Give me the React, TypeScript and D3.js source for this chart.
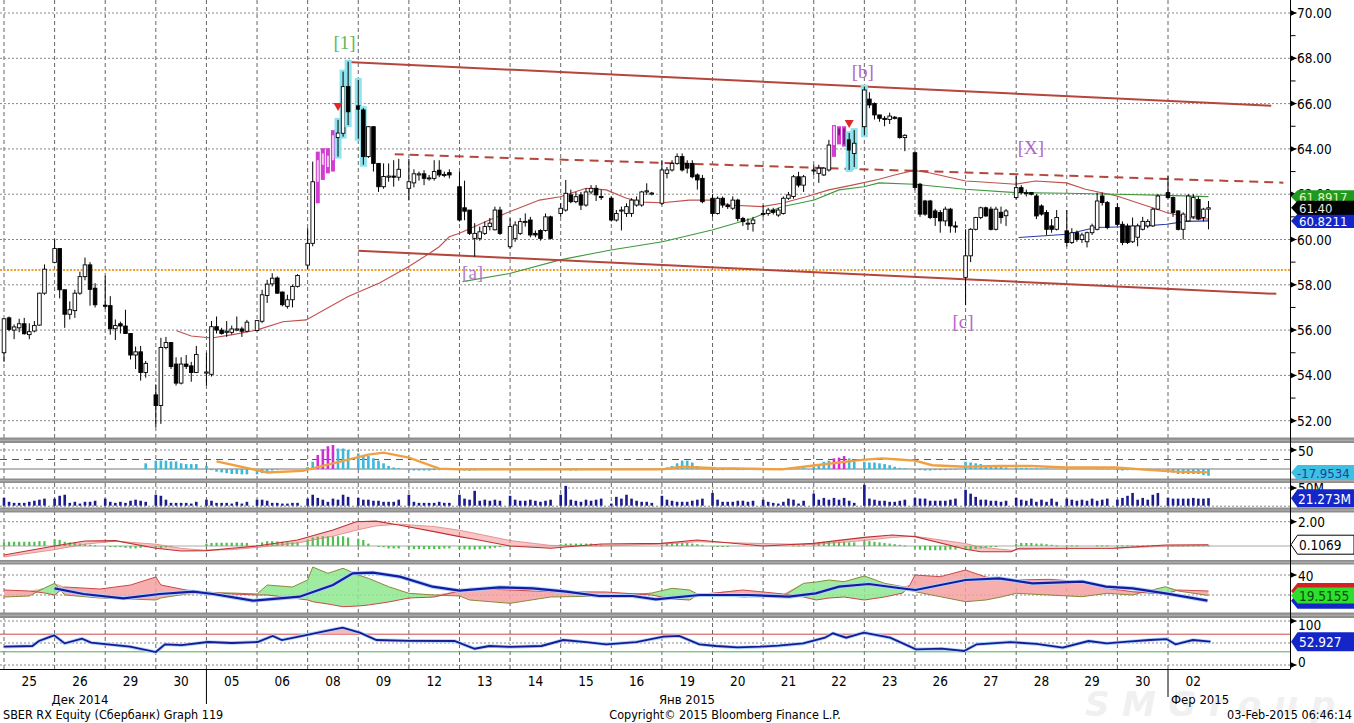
import React from "react";
import * as d3 from "d3";

// ---------- categories ----------
const dayLabels = ["25","26","29","30","05","06","08","09","12","13","14","15","16","19","20","21","22","23","26","27","28","29","30","02"];
const monthLabels = [
  { t: "Дек 2014", x: 80, anchor: "middle" },
  { t: "Янв 2015", x: 687, anchor: "middle" },
  { t: "Фер 2015", x: 1171, anchor: "start" },
];

// ---------- hourly candles (9 per trading day) ----------
const opens = [
  55.0,56.54,56.0,56.1,56.28,55.8,55.96,56.22,57.63,
  58.99,59.6,57.78,56.7,56.86,57.63,58.36,58.88,57.85,
  57.1,57.08,56.06,56.28,56.18,55.85,54.9,55.04,54.13,
  53.14,52.67,55.23,55.45,54.5,53.66,54.5,54.42,54.13,
  54.1,54.05,56.15,56.0,55.9,55.9,56.0,56.05,55.95,
  55.98,56.39,57.53,58.04,58.3,57.68,57.05,57.34,57.93,
  58.87,59.83,62.55,63.3,63.2,63.5,64.5,64.69,66.75,
  65.9,65.72,63.66,64.98,63.36,62.33,62.75,62.8,62.75,
  62.26,62.5,62.85,62.9,62.7,62.7,63.06,62.85,62.95,
  62.33,61.4,61.3,60.05,60.05,60.27,60.57,60.43,61.3,
  59.68,60.05,60.27,60.8,60.86,60.27,60.4,60.4,61.0,
  61.15,61.3,61.97,61.67,61.97,61.52,62.1,62.26,61.9,
  61.82,60.86,61.3,61.15,61.15,61.52,61.52,62.1,62.05,
  61.6,62.92,63.07,63.36,63.66,63.36,63.36,62.85,62.7,
  61.82,61.15,61.82,61.52,61.38,61.74,60.93,60.72,60.7,
  61.15,61.15,61.3,61.08,61.15,61.82,61.9,62.77,62.4,
  63.07,62.92,62.85,63.07,64.17,64.9,64.9,64.4,63.8,
  64.98,66.2,66.0,65.5,65.35,65.3,65.4,65.37,64.5,
  63.83,62.44,61.7,61.7,61.26,61.19,60.82,61.34,60.6,
  58.33,59.28,60.45,60.97,61.4,61.34,60.45,61.2,61.05,
  61.85,62.29,62.07,62.07,61.92,61.48,61.19,60.6,60.45,
  60.38,59.87,60.3,60.0,59.9,60.3,60.45,61.92,61.63,
  61.41,60.67,60.6,59.9,60.1,60.45,60.6,60.6,61.34,
  62.07,61.85,61.26,60.45,60.82,61.0,61.77,60.97,61.34,
];
const highs = [
  56.5,56.6,56.25,56.5,56.54,56.3,56.4,57.65,58.9,
  60.0,59.6,57.78,57.27,57.78,58.58,59.2,59.0,58.07,
  58.4,57.5,56.47,56.37,56.9,55.85,55.27,55.3,54.64,
  53.6,55.66,55.7,55.45,54.8,54.8,54.9,54.6,55.3,
  55.0,56.4,56.6,56.1,56.4,56.2,56.6,56.15,56.45,
  56.45,57.78,58.22,58.51,58.37,57.7,57.56,58.0,58.47,
  60.5,63.44,63.88,64.03,64.03,64.83,65.28,67.41,67.85,
  67.04,65.8,65.0,65.0,63.36,63.36,63.36,63.5,63.56,
  63.56,63.1,63.0,63.06,62.85,63.5,63.5,63.0,63.1,
  62.99,62.6,61.3,60.72,60.57,60.8,60.95,61.45,61.45,
  60.93,60.8,60.95,61.15,61.0,60.4,60.45,61.15,61.05,
  61.6,62.63,62.2,62.1,62.1,62.26,62.4,62.4,62.2,
  61.9,61.3,61.45,61.6,61.82,61.9,62.15,62.48,62.1,
  63.5,63.2,63.5,63.8,63.8,63.5,63.5,62.92,62.85,
  62.0,61.9,61.9,61.6,61.9,61.8,61.0,60.93,61.0,
  61.52,61.4,61.4,61.4,61.9,62.1,62.85,62.99,62.85,
  63.3,63.3,63.2,64.4,65.05,65.0,65.0,64.7,64.83,
  66.75,66.5,66.05,65.5,65.45,65.6,65.45,65.4,64.65,
  63.9,62.5,61.75,61.75,61.35,61.3,61.45,61.4,60.8,
  60.45,60.5,61.0,61.45,61.45,61.45,61.45,61.45,61.35,
  62.8,62.4,62.2,62.1,62.0,61.55,61.3,60.9,61.3,
  61.3,60.5,60.4,60.3,60.35,60.7,62.07,62.07,61.7,
  61.6,60.8,60.7,60.97,60.7,61.0,60.9,61.4,62.0,
  62.8,61.9,61.3,61.2,62.0,62.0,61.9,61.4,61.7,
];
const lows = [
  54.6,55.95,55.6,55.9,55.8,55.6,55.9,56.2,57.56,
  58.95,57.4,56.1,56.47,56.54,57.56,58.2,57.08,57.0,
  56.95,55.8,55.56,55.85,55.85,54.7,54.28,53.77,53.9,
  51.72,51.86,55.15,54.28,53.55,53.6,54.28,53.72,54.1,
  53.55,53.95,55.85,55.8,55.7,55.8,55.95,55.7,55.9,
  55.95,56.31,57.2,57.93,57.6,57.05,56.95,57.0,57.88,
  58.7,59.7,61.6,62.63,62.92,63.0,63.66,64.54,65.05,
  64.45,63.3,63.6,63.0,62.1,62.24,62.55,62.33,62.6,
  61.72,62.3,62.6,62.4,62.6,62.6,62.75,62.75,62.7,
  60.79,60.85,60.2,59.24,59.95,60.2,60.4,60.4,60.2,
  59.6,59.9,60.2,60.57,60.1,60.1,59.95,60.35,60.0,
  61.0,61.23,61.6,61.6,61.3,61.45,62.0,61.7,61.75,
  60.79,60.79,60.4,61.0,61.0,61.45,61.45,61.97,61.95,
  61.52,62.7,63.0,63.3,63.0,62.92,62.7,62.2,61.6,
  61.0,61.1,61.4,61.35,61.3,60.8,60.6,60.42,60.35,
  61.0,61.05,61.1,61.0,61.1,61.75,61.8,62.3,62.1,
  62.85,62.5,62.8,63.0,63.65,64.2,64.1,63.07,63.2,
  64.6,65.8,65.3,65.2,65.0,65.1,65.3,64.45,63.9,
  62.2,61.0,61.05,60.9,60.6,60.3,60.6,60.3,60.3,
  57.1,59.0,60.4,60.9,61.0,60.4,60.4,60.7,60.6,
  61.77,62.0,61.9,61.95,60.9,61.05,60.2,60.3,60.4,
  59.7,59.8,59.9,59.85,59.65,60.2,60.4,61.5,60.45,
  60.6,59.75,59.8,59.85,59.7,60.4,60.5,60.55,61.3,
  61.8,61.0,60.4,60.0,60.8,60.9,60.85,60.8,60.45,
];
const closes = [
  56.5,56.03,56.14,56.28,55.84,55.93,56.2,57.63,58.69,
  59.6,57.78,56.7,56.9,57.63,58.36,58.88,57.8,57.12,
  57.05,56.06,56.2,56.18,55.85,54.9,55.04,54.13,54.53,
  52.67,55.23,55.45,54.39,53.66,54.5,54.4,54.13,54.92,
  54.15,56.15,56.0,55.85,55.95,56.05,56.05,55.95,56.35,
  56.42,57.56,58.03,58.29,57.63,57.12,57.34,57.93,58.41,
  59.83,62.55,63.5,63.8,63.7,64.6,64.7,66.75,65.64,
  65.75,63.66,64.98,63.36,62.33,62.78,62.8,62.75,63.1,
  62.55,62.9,62.9,62.7,62.72,63.0,62.85,62.87,62.85,
  60.86,61.25,60.27,60.27,60.34,60.57,60.72,61.3,60.27,
  60.57,60.64,60.79,60.8,60.2,60.2,60.05,61.0,60.05,
  61.38,62.04,61.67,61.89,61.52,62.1,62.26,61.97,61.89,
  60.86,61.15,61.3,61.45,61.74,61.74,62.1,62.15,62.05,
  63.07,63.07,63.36,63.66,63.07,63.15,62.77,62.63,61.67,
  61.15,61.82,61.52,61.45,61.74,60.93,60.79,60.72,60.86,
  61.15,61.3,61.2,61.3,61.82,61.97,62.77,62.4,62.77,
  63.07,63.15,63.15,64.17,65.0,64.6,64.2,63.95,64.25,
  66.6,65.94,65.5,65.35,65.3,65.45,65.35,64.5,64.6,
  62.3,61.12,61.12,60.97,60.97,60.82,61.34,60.6,60.55,
  59.28,60.45,60.97,61.4,61.04,60.45,61.34,60.97,61.26,
  62.29,62.07,62.07,62.0,61.04,61.12,60.45,60.45,60.97,
  59.87,60.3,60.0,60.2,60.3,60.6,61.7,61.63,60.53,
  60.67,59.87,59.87,60.6,60.6,60.8,60.8,61.34,61.92,
  61.85,61.19,60.45,61.12,61.92,61.85,60.9,61.34,61.40,
];

// volume, millions
const volumes = [
  22,11,8,8,8,11,14,17,20,
  20,28,31,8,11,6,11,11,14,
  20,11,8,11,8,14,17,14,11,
  31,28,17,8,8,8,8,6,11,
  17,14,8,8,8,6,11,6,11,
  17,17,14,8,8,6,6,8,8,
  20,31,22,17,11,20,17,31,25,
  22,17,17,14,14,11,11,11,17,
  31,11,8,8,8,8,11,8,8,
  31,20,17,42,14,17,14,17,14,
  28,17,14,14,17,14,11,14,17,
  31,56,17,14,11,17,14,17,20,
  6,25,20,31,20,14,11,11,8,
  28,17,14,11,11,11,14,17,20,
  36,17,11,11,11,14,14,11,14,
  17,11,8,6,11,20,17,6,14,
  34,17,22,17,22,17,22,14,8,
  59,20,17,14,14,11,11,14,17,
  22,20,20,14,14,14,14,17,20,
  45,34,25,17,17,14,14,11,14,
  22,17,14,20,11,17,11,20,11,
  20,17,14,17,14,20,14,17,20,
  17,22,28,36,17,22,17,31,36,
  22,20,20,20,20,22,20,20,21.273,
];

// oscillator histogram (panel 2)
const oscBars = [
  0,0,0,0,0,0,0,0,0,
  0,0,0,0,0,0,0,0,0,
  0,0,0,0,0,0,0,0,15,
  22,22,22,20,20,15,13,13,13,
  8,-3,-7,-9,-11,-13,-13,-14,-14,
  -14,-11,-7,-4,-2,0,0,0,0,
  5,19,37,52,60,63,54,54,50,
  41,37,34,28,22,15,8,4,2,
  -3,-4,-4,-4,-4,-3,-3,-2,-2,
  -3,-4,-5,-4,-3,-3,-2,-2,-2,
  -2,-3,-3,-2,-2,-3,-3,-2,-2,
  -2,-3,-4,-4,-3,-3,-2,-2,-1,
  -1,-2,-3,-2,-2,-1,-1,-1,0,
  2,4,8,15,22,22,17,8,3,
  -2,-3,-3,-2,-2,-3,-3,-2,-1,
  -1,-2,-2,-1,-1,0,1,1,2,
  6,13,19,22,28,30,34,28,19,
  19,17,17,15,13,10,6,3,2,
  -2,-3,-4,-4,-3,-3,-3,-2,-2,
  19,17,15,13,10,10,8,6,4,
  4,3,3,2,2,1,1,0,0,
  0,0,1,1,0,0,-1,-1,-1,
  -3,-4,-3,-3,-2,-2,-3,-3,-4,
  -7,-10,-13,-13,-13,-13,-13,-16,-17.9534,
];
const oscLine: [number, number][] = [
  [42,20],[52,-9],[59,-5],[72,38],[75,43],[80,30],[86,1],[90,-1],[130,-1],[134,6],[140.7,2],
  [153.7,-1],[160.4,10],[169.5,24],[173.5,28],[176.8,25],[180,22],[183.4,10],[190,6],[196.6,8],
  [203,8],[209.8,4],[219.6,4],[226.8,-3],[231.5,-7],[238,-9],
];

// MACD histogram (panel 4)
const macdHist = [
  0.3,0.35,0.35,0.35,0.35,0.35,0.35,0.4,0.4,
  0.55,0.5,0.35,0.3,0.25,0.2,0.15,0.1,0.05,
  0,-0.05,-0.1,-0.1,-0.15,-0.2,-0.2,-0.15,-0.1,
  -0.15,-0.2,-0.1,-0.05,0,0,0,0,0,
  0.2,0.25,0.27,0.27,0.27,0.27,0.27,0.27,0.25,
  0.1,0.3,0.4,0.4,0.38,0.35,0.3,0.3,0.3,
  0.5,0.7,0.77,0.8,0.8,0.8,0.8,0.8,0.7,
  0.6,0.5,0.2,0,-0.05,-0.1,-0.2,-0.2,-0.2,
  -0.2,-0.25,-0.25,-0.25,-0.25,-0.25,-0.25,-0.2,-0.2,
  -0.25,-0.27,-0.3,-0.3,-0.27,-0.25,-0.2,-0.15,-0.1,
  -0.05,0,0,0,0,0,0,0,0,
  0.15,0.2,0.2,0.2,0.2,0.2,0.2,0.15,0.1,
  0.05,0,0,0,0,0,0,0,0,
  0.1,0.2,0.25,0.25,0.25,0.25,0.2,0.15,0.1,
  -0.05,-0.05,-0.05,-0.05,0,0,0,0,0,
  0,0,0,0,0,0,0.05,0.05,0.1,
  0.2,0.3,0.35,0.35,0.35,0.35,0.35,0.3,0.3,
  0.4,0.4,0.35,0.3,0.25,0.2,0.15,0.1,0.05,
  -0.2,-0.3,-0.35,-0.35,-0.35,-0.35,-0.35,-0.3,-0.3,
  -0.3,-0.3,-0.25,-0.2,-0.15,-0.1,-0.05,0,0,
  0.2,0.25,0.25,0.25,0.2,0.2,0.15,0.1,0.05,
  0.05,0.05,0.05,0,0,0,0.05,0.05,0.05,
  0.05,0.05,0.05,0.05,0.05,0.05,0.05,0.05,0.05,
  0.05,0.05,0.05,0.05,0.05,0.05,0.05,0.05,0.05,
];
// [slot, macd, signal]
const macdLines: [number, number, number][] = [
  [0,-0.74,-0.9],[10,0,-0.3],[16,0.41,0.15],[22,0.44,0.4],[30,-0.19,0.15],[35,-0.41,-0.2],
  [40,-0.38,-0.35],[45,-0.19,-0.3],[50,0,-0.12],[58,0.49,0.25],[65,1.32,0.8],[69.6,2.0,1.3],
  [73.5,2.05,1.65],[78,1.73,1.8],[85,1.18,1.6],[90,0.77,1.3],[93,0.55,1.05],[100,0,0.45],
  [108,-0.19,0.05],[118,0.16,0.0],[130,0.22,0.15],[137,0.49,0.35],[150,0,0.2],[160,0.22,0.12],
  [170,0.71,0.45],[175.5,0.9,0.7],[180,0.77,0.8],[190,-0.27,0.2],[193,-0.47,-0.1],[199,-0.47,-0.35],
  [200.5,-0.19,-0.3],[210,-0.19,-0.22],[219,-0.19,-0.2],[229.5,0.08,-0.02],[238,0.1069,0.05],
];

// DMI: [slot, +DI, -DI]
const dmiLines: [number, number, number][] = [
  [0,18,25],[5,19,24],[8,27,22],[10,31.7,20],[12,20,28],[19,17,26],[25,16,30],[30,15,38],[31,17,30],
  [36,21,25],[40,22,23],[45,22,21],[50,21,20],[52,30,20],[57,28,17],[60,35,15],[61,48,13.3],
  [64,41.7,11],[67,46.7,8.3],[70,40,9],[72,36.7,10],[76,28.3,13],[78,25,15],[80,21.7,17],[85,20,18],
  [90,19,24],[92,15,26.7],[100,11.7,25],[108,18,23.3],[119,19,23],[122,19,22],[128,22,20],
  [132,26.7,16],[135.5,25,15],[137,21,20],[146,18,25],[154,19,21],[158,31.7,18],[160.5,33,15],
  [163,35,17],[166,33.3,18],[170,39,15],[174,31.7,18],[177.6,28.3,22],[179,25,30],[180,23.3,40],
  [185,18.3,38.3],[190,13.3,45],[194,15,38],[197,18,36],[200,21.7,35],[206.5,20,35.7],[213,18.3,33.3],
  [218,21.7,26.7],[223,20,23.3],[226,24,22],[229.5,28.3,21],[232,24,25],[238,19.5155,24],
];
const adxLine: [number, number][] = [
  [10,26.7],[15.7,21],[23.6,16.7],[30.8,21],[37.4,23.3],[41.3,21],[49.2,14.3],[58.4,18.3],[65,30],
  [68.9,41.7],[72.9,42.3],[78.2,38.3],[84.7,28.3],[90,24.3],[97.9,27.7],[104.5,26.7],[111.1,23.3],
  [117.6,19],[124.2,19],[128.8,15.7],[137.4,20],[147.2,20],[155.1,18.3],[160.4,21.7],[165,28.3],
  [170.9,31],[176.8,27],[180.1,25],[190,35],[196.6,36.7],[203.2,31.7],[213.1,33.3],[217.7,28.3],
  [223,26.7],[229.5,21.7],[237.8,14.3],
];

// RSI
const rsiLine: [number, number][] = [
  [0,41.6],[5.6,43.2],[6.9,54.5],[9.9,67.4],[12,49.2],[15.4,59.8],[17.2,50.8],[20.5,47],[24.9,41.6],[30,29.5],
  [31.8,47],[35.1,45],[40.3,52.3],[45,50],[50.1,52.3],[53.1,66],[54.9,56.8],[60.4,69.7],[63,76],[66.9,84.8],
  [70.3,73.5],[73.6,56.8],[80,55],[89,54.5],[93,37],[95.9,43.2],[100,41],[106.2,43.2],[110.5,56.8],[115,52],
  [119,47],[124.9,52],[130.3,64.4],[133.4,66],[137.4,47],[140.7,43.2],[145,40],[149.4,41.6],[153,44],[157.9,49],
  [162.2,62],[163.8,72],[166.4,62],[169.9,73.5],[175.1,62],[180.2,35.6],[185.3,37],[189.7,31.8],[192.2,47],[198.9,52],
  [204,48],[209.2,39.4],[214.3,54.5],[217.9,49],[222,53],[226.4,56.8],[229.7,59],[231.5,47],[234.9,56.8],[238.4,52.927],
];

// moving averages on price
const maRed: [number, number][] = [
  [34.1,55.97],[37,55.74],[41,55.65],[45.2,55.8],[49.9,56.0],[55.1,56.37],[59.7,56.45],[67.9,57.47],
  [74.2,58.08],[79.9,58.8],[84.1,59.39],[86,59.68],[88,60.12],[90,60.28],[95.9,60.86],[99.9,61.23],
  [105.8,61.74],[109.9,61.89],[115,62.26],[119,62.19],[123,61.82],[126.1,61.65],[130.1,61.62],
  [135.4,61.74],[139.9,61.74],[143.3,61.52],[149.8,61.45],[153.7,61.6],[158.5,61.89],[163,62.19],
  [167.6,62.4],[172.9,62.66],[176,62.85],[179.8,63.05],[182.8,62.95],[190,62.58],[192.6,62.55],
  [199.9,62.44],[203.8,62.58],[209.9,62.5],[213.7,62.22],[219.9,61.92],[226.8,61.41],[229.7,61.19],
  [234.1,60.97],[238,60.9],
];
const maGreen: [number, number][] = [
  [90.6,58.14],[99.9,58.5],[109.9,59.1],[119.9,59.54],[130.1,59.9],[139.9,60.42],[147.8,60.93],
  [153.7,61.45],[160.1,61.74],[165,62.19],[169.9,62.33],[172.9,62.5],[179.8,62.44],[190,62.22],
  [199.9,62.07],[210,62.04],[219.9,62.0],[229.7,61.95],[238,61.8917],
];
const maBlue: [number, number][] = [
  [200.5,60.09],[210,60.23],[215.7,60.53],[219.9,60.55],[225.6,60.6],[229.7,60.67],[233.5,60.8],[238,60.8211],
];

// trend channel: [slot, price]
const channelUpper: [number, number][] = [[67.9,67.84],[250.4,65.9]];
const channelLower: [number, number][] = [[70,59.5],[251.4,57.6]];
const channelMid: [number, number][] = [[77.2,63.76],[252.8,62.51]];
const supportLevel = 58.65;

const waveLabels = [
  { t: "[1]", s: 67.3, p: 68.68, c: "#5cb85c" },
  { t: "[b]", s: 169.7, p: 67.4, c: "#b565c8" },
  { t: "[a]", s: 92.6, p: 58.52, c: "#b07cc8" },
  { t: "[X]", s: 202.9, p: 64.04, c: "#b565c8" },
  { t: "[c]", s: 189.5, p: 56.36, c: "#b565c8" },
];
const signalMarks: [number, number][] = [[66,65.85],[167,65.1]];
const magentaSlots = [62,63,64,65,164,165,166];
const cyanSlots = [66,67,68,70,71,167,168,170];

const priceTicks = [52,54,56,58,60,62,64,66,68,70];
const priceMinor = [53,55,57,59,61,63,65,67,69];

const lastPrice = 61.40;
const lastGreenMa = 61.8917;
const lastBlueMa = 60.8211;
const lastOsc = -17.9534;
const lastVol = 21.273;
const lastMacd = 0.1069;
const lastPlus = 19.5155;
const lastMinus = 24;
const lastAdx = 14.3;
const lastRsi = 52.927;

const FONT = "'DejaVu Sans Condensed', 'DejaVu Sans', sans-serif";
const AX = 1290.5;

export default function App() {
  const W = 1354, H = 723;
  const x = d3.scaleLinear().domain([0, 230]).range([4, 1168]);
  const yMain = d3.scaleLinear().domain([52, 70]).range([420.7, 13]);
  const yOsc = d3.scaleLinear().domain([0, 50]).range([469, 450]);
  const yVol = d3.scaleLinear().domain([0, 50]).range([505.7, 488]);
  const yMacd = d3.scaleLinear().domain([0, 2]).range([546, 521.7]);
  const yDmi = d3.scaleLinear().domain([20, 40]).range([595, 575]);
  const yRsi = d3.scaleLinear().domain([0, 100]).range([665, 621]);
  const slotOf = (i: number) => Math.floor(i / 9) * 10 + (i % 9);
  const lineFor = (y: d3.ScaleLinear<number, number>) =>
    d3.line<[number, number]>().x((d) => x(d[0])).y((d) => y(d[1]));

  const daySlots = d3.range(0, 24).map((d) => d * 10);
  const seps: [number, number][] = [[437.5,443],[478.5,483],[507.5,512.5],[560,564.5],[612.5,618]];

  const macdFill = d3.area<[number, number, number]>()
    .x((d) => x(d[0])).y0((d) => yMacd(d[1])).y1((d) => yMacd(d[2]))(macdLines) || "";
  const macdPath = d3.line<[number, number, number]>().x((d) => x(d[0])).y((d) => yMacd(d[1]))(macdLines) || "";
  const sigPath = d3.line<[number, number, number]>().x((d) => x(d[0])).y((d) => yMacd(d[2]))(macdLines) || "";

  const greenFill = d3.area<[number, number, number]>()
    .x((d) => x(d[0])).y0((d) => yDmi(d[2])).y1((d) => yDmi(Math.max(d[1], d[2])))(dmiLines) || "";
  const redFill = d3.area<[number, number, number]>()
    .x((d) => x(d[0])).y0((d) => yDmi(d[1])).y1((d) => yDmi(Math.max(d[1], d[2])))(dmiLines) || "";
  const plusPath = d3.line<[number, number, number]>().x((d) => x(d[0])).y((d) => yDmi(d[1]))(dmiLines) || "";
  const minusPath = d3.line<[number, number, number]>().x((d) => x(d[0])).y((d) => yDmi(d[2]))(dmiLines) || "";

  const rsiOver = d3.area<[number, number]>()
    .x((d) => x(d[0])).y0(() => yRsi(70)).y1((d) => yRsi(Math.max(70, d[1])))(rsiLine) || "";

  const box = (yc: number, h: number) =>
    `M${AX + 0.5},${yc} L${AX + 7},${yc - h / 2} L${W},${yc - h / 2} L${W},${yc + h / 2} L${AX + 7},${yc + h / 2} Z`;
  const clampC = (yc: number, h: number, top: number, bot: number) =>
    Math.max(top + h / 2, Math.min(bot - h / 2, yc));

  const pointer = (y: number, k: string) => (
    <g key={k}>
      <line x1={AX} x2={AX + 6} y1={y} y2={y} stroke="#000" strokeWidth={1} />
      <path d={`M${AX},${y - 3} L${AX + 6},${y} L${AX},${y + 3} Z`} fill="#000" />
    </g>
  );

  const hGrid = (y: number, k: string, dash = "2,2", color = "#888") => (
    <line key={k} x1={0} x2={AX} y1={y} y2={y} stroke={color} strokeWidth={1} strokeDasharray={dash} />
  );

  return (
    <svg width={W} height={H} style={{ position: "absolute", left: 0, top: 0, background: "#fff" }} fontFamily={FONT}>
      <rect x={0} y={0} width={W} height={H} fill="#fff" />

      {/* watermark */}
      <text x={1085} y={716} fontSize={34} fontWeight="bold" fontStyle="italic" fill="#f0f0f0" textLength={250} fontFamily="'DejaVu Sans', sans-serif">SMGroup</text>

      {/* vertical day grid */}
      {daySlots.map((s) => (
        <line key={"v" + s} x1={x(s)} x2={x(s)} y1={0} y2={669} stroke="#666" strokeWidth={1} strokeDasharray="4,3" />
      ))}

      {/* main horizontal grid */}
      {priceTicks.map((p) => hGrid(yMain(p), "hg" + p))}

      {/* support level */}
      <line x1={0} x2={AX} y1={yMain(supportLevel)} y2={yMain(supportLevel)} stroke="#f0a030" strokeWidth={2} strokeDasharray="2,1.5" />

      {/* moving averages */}
      <path d={lineFor(yMain)(maRed) || ""} fill="none" stroke="#c0504d" strokeWidth={1.1} />
      <path d={lineFor(yMain)(maGreen) || ""} fill="none" stroke="#3c9a3c" strokeWidth={1.1} />
      <path d={lineFor(yMain)(maBlue) || ""} fill="none" stroke="#2a3aa8" strokeWidth={1.1} />

      {/* channel */}
      <path d={lineFor(yMain)(channelUpper) || ""} fill="none" stroke="#b4463c" strokeWidth={2} />
      <path d={lineFor(yMain)(channelLower) || ""} fill="none" stroke="#b4463c" strokeWidth={2} />
      <path d={lineFor(yMain)(channelMid) || ""} fill="none" stroke="#b4463c" strokeWidth={2} strokeDasharray="9,6" />

      {/* candles */}
      {closes.map((c, i) => {
        const s = slotOf(i);
        const cx = x(s);
        const o = opens[i], h = highs[i], l = lows[i];
        const up = c >= o;
        const yt = yMain(Math.max(o, c));
        const yb = yMain(Math.min(o, c));
        const bh = Math.max(1, yb - yt);
        const mag = magentaSlots.includes(s);
        const cyan = cyanSlots.includes(s);
        return (
          <g key={"c" + i}>
            {cyan && <rect x={cx - 3.5} y={yMain(h) - 2} width={7} height={yMain(l) - yMain(h) + 4} fill="#8fe3ee" />}
            {mag ? (
              <>
                <rect x={cx - 2} y={yMain(h)} width={4} height={yMain(l) - yMain(h)} fill="#d23cd2" />
                <rect x={cx - 1} y={yt} width={2} height={bh} fill={up ? "#f6c8f6" : "#7a1a7a"} />
              </>
            ) : (
              <>
                <line x1={cx} x2={cx} y1={yMain(h)} y2={yMain(l)} stroke="#000" strokeWidth={1} />
                <rect x={cx - 1.8} y={yt} width={3.6} height={bh} fill={up ? "#fff" : "#000"} stroke="#000" strokeWidth={0.9} />
              </>
            )}
          </g>
        );
      })}

      {/* signal triangles */}
      {signalMarks.map(([s, p], i) => {
        const cx = x(s), cy = yMain(p);
        return <path key={"tri" + i} d={`M${cx - 4.5},${cy - 4} L${cx + 4.5},${cy - 4} L${cx},${cy + 4} Z`} fill="#e02828" />;
      })}

      {/* wave labels */}
      {waveLabels.map((w, i) => (
        <text key={"w" + i} x={x(w.s)} y={yMain(w.p) + 6} textAnchor="middle" fontSize={19} fill={w.c} fontFamily="'Liberation Serif', serif">{w.t}</text>
      ))}

      {/* ---------- panel 2: oscillator ---------- */}
      {hGrid(yOsc(50), "og50")}
      <line x1={0} x2={AX} y1={yOsc(25)} y2={yOsc(25)} stroke="#a03a3a" strokeWidth={1} strokeDasharray="7,5" />
      <line x1={0} x2={AX} y1={yOsc(0)} y2={yOsc(0)} stroke="#777" strokeWidth={1} />
      {oscBars.map((v, i) => {
        if (v === 0) return null;
        const s = slotOf(i);
        const y0 = yOsc(0), y1 = yOsc(v);
        return <rect key={"ob" + i} x={x(s) - 1.3} y={Math.min(y0, y1)} width={2.6} height={Math.abs(y1 - y0)} fill={magentaSlots.includes(s) ? "#d42cd4" : "#3cb8dc"} />;
      })}
      <path d={lineFor(yOsc)(oscLine) || ""} fill="none" stroke="#f0a040" strokeWidth={2.4} />

      {/* ---------- panel 3: volume ---------- */}
      {hGrid(yVol(50), "vg50")}
      {hGrid(yVol(0) + 0.5, "vg0")}
      {volumes.map((v, i) => {
        const s = slotOf(i);
        return <rect key={"vb" + i} x={x(s) - 1.3} y={yVol(v)} width={2.6} height={yVol(0) - yVol(v)} fill="#1b1b8f" />;
      })}

      {/* ---------- panel 4: MACD ---------- */}
      {hGrid(yMacd(2), "mg2")}
      <line x1={0} x2={AX} y1={yMacd(0)} y2={yMacd(0)} stroke="#aaa" strokeWidth={1} />
      <path d={macdFill} fill="#f3a0a0" opacity={0.6} />
      {macdHist.map((v, i) => {
        if (v === 0) return null;
        const s = slotOf(i);
        const y0 = yMacd(0), y1 = yMacd(v);
        return <rect key={"mh" + i} x={x(s) - 1.1} y={Math.min(y0, y1)} width={2.2} height={Math.max(1, Math.abs(y1 - y0))} fill="#4cc24c" />;
      })}
      <path d={sigPath} fill="none" stroke="#e08080" strokeWidth={0.8} />
      <path d={macdPath} fill="none" stroke="#c03030" strokeWidth={1.1} />

      {/* ---------- panel 5: DMI ---------- */}
      {hGrid(yDmi(40), "dg40")}
      {hGrid(yDmi(20), "dg20")}
      <path d={greenFill} fill="#8ee88e" opacity={0.85} />
      <path d={redFill} fill="#f4a0a0" opacity={0.85} />
      <path d={plusPath} fill="none" stroke="#8a8a3a" strokeWidth={1} />
      <path d={minusPath} fill="none" stroke="#c84a4a" strokeWidth={1} />
      <path d={lineFor(yDmi)(adxLine) || ""} fill="none" stroke="#a8d4ff" strokeWidth={4} />
      <path d={lineFor(yDmi)(adxLine) || ""} fill="none" stroke="#1a1aa0" strokeWidth={2.2} />

      {/* ---------- panel 6: RSI ---------- */}
      {hGrid(yRsi(100), "rg100")}
      {hGrid(yRsi(50), "rg50")}
      {hGrid(yRsi(0), "rg0")}
      <line x1={0} x2={AX} y1={yRsi(70)} y2={yRsi(70)} stroke="#d04848" strokeWidth={1} />
      <line x1={0} x2={AX} y1={yRsi(30)} y2={yRsi(30)} stroke="#50b050" strokeWidth={1} />
      <path d={rsiOver} fill="#f4a8b0" opacity={0.8} />
      <path d={lineFor(yRsi)(rsiLine) || ""} fill="none" stroke="#a8d4ff" strokeWidth={3.5} />
      <path d={lineFor(yRsi)(rsiLine) || ""} fill="none" stroke="#1a1a90" strokeWidth={1.8} />

      {/* separators */}
      {seps.map(([a, b], i) => (
        <g key={"sep" + i}>
          <rect x={0} y={a} width={W} height={b - a} fill="#8e8e8e" />
          <line x1={0} x2={W} y1={a + (b - a) / 2} y2={a + (b - a) / 2} stroke="#b4b4b4" strokeWidth={1} />
        </g>
      ))}

      {/* axes */}
      <line x1={AX} x2={AX} y1={0} y2={669} stroke="#000" strokeWidth={1} />
      <line x1={0} x2={AX} y1={669.5} y2={669.5} stroke="#000" strokeWidth={1} />

      {/* main axis ticks and labels */}
      {priceMinor.map((p) => (
        <line key={"mt" + p} x1={AX} x2={AX + 5} y1={yMain(p)} y2={yMain(p)} stroke="#000" strokeWidth={1} />
      ))}
      {priceTicks.map((p) => pointer(yMain(p), "pt" + p))}
      {priceTicks.map((p) => (
        <text key={"pl" + p} x={1297} y={yMain(p) + 5} fontSize={13.5} fill="#000">{p.toFixed(2)}</text>
      ))}

      {/* lower axis labels */}
      {pointer(yOsc(50), "p50")}
      <text x={1298} y={yOsc(50) + 6} fontSize={13.5}>50</text>
      {pointer(yVol(50), "pv50")}
      <text x={1298} y={yVol(50) + 5} fontSize={13.5}>50M</text>
      {pointer(yMacd(2), "pm2")}
      <text x={1298} y={yMacd(2) + 5} fontSize={13.5}>2.00</text>
      {pointer(yDmi(40), "pd40")}
      <text x={1298} y={yDmi(40) + 6} fontSize={13.5}>40</text>
      {pointer(yRsi(100), "pr100")}
      <text x={1298} y={yRsi(100) + 9} fontSize={13.5}>100</text>
      {pointer(yRsi(0), "pr0")}
      <text x={1298} y={yRsi(0) + 2} fontSize={13.5}>0</text>

      {/* value boxes */}
      {(() => {
        const out: React.ReactNode[] = [];
        const yg = yMain(lastGreenMa);
        out.push(<path key="bg" d={box(yg, 13)} fill="#1e9a1e" />);
        out.push(<text key="tg" x={1299} y={yg + 5} fontSize={13} fill="#f0f0c0">{lastGreenMa.toFixed(4)}</text>);
        const yb = yMain(lastBlueMa);
        out.push(<path key="bb" d={box(yb, 14)} fill="#1426c8" />);
        out.push(<text key="tb" x={1299} y={yb + 5} fontSize={13} fill="#fff">{lastBlueMa.toFixed(4)}</text>);
        const yk = yMain(lastPrice);
        out.push(<path key="bk" d={box(yk, 14)} fill="#000" />);
        out.push(<text key="tk" x={1299} y={yk + 5} fontSize={13} fill="#e8e8e8">{lastPrice.toFixed(2)}</text>);

        const yo = clampC(yOsc(lastOsc), 15, 443, 480);
        out.push(<path key="bo" d={box(yo, 15)} fill="#3cc0e4" />);
        out.push(<text key="to" x={1297} y={yo + 5} fontSize={13} fill="#1c3f94">{lastOsc.toFixed(4)}</text>);

        const yv = clampC(yVol(lastVol), 18, 483, 507.5);
        out.push(<path key="bv" d={box(yv, 18)} fill="#1426c8" />);
        out.push(<text key="tv" x={1298} y={yv + 5.5} fontSize={13.5} fill="#fff">{lastVol.toFixed(3)}M</text>);

        const ym = yMacd(lastMacd);
        out.push(<path key="bm" d={box(ym, 19)} fill="#fff" stroke="#000" strokeWidth={1} />);
        out.push(<text key="tm" x={1299} y={ym + 5.5} fontSize={13.5} fill="#000">{lastMacd.toFixed(4)}</text>);

        const yr1 = yDmi(lastMinus);
        out.push(<path key="bdr" d={box(yr1, 16)} fill="#d42020" />);
        const ya = yDmi(lastAdx);
        out.push(<path key="bda" d={box(ya, 16)} fill="#1426c8" />);
        const yp = yDmi(lastPlus);
        out.push(<path key="bdp" d={box(yp, 16)} fill="#2ee02e" />);
        out.push(<text key="tdp" x={1299} y={yp + 5.5} fontSize={13.5} fill="#0a4a0a">{lastPlus.toFixed(4)}</text>);

        const yrs = yRsi(lastRsi);
        out.push(<path key="brs" d={box(yrs, 19)} fill="#1426c8" />);
        out.push(<text key="trs" x={1299} y={yrs + 5.5} fontSize={13.5} fill="#fff">{lastRsi.toFixed(3)}</text>);
        return out;
      })()}

      {/* time axis */}
      {dayLabels.map((t, d) => (
        <text key={"dl" + d} x={x(d * 10 + 5)} y={686} textAnchor="middle" fontSize={13.5} fill="#000">{t}</text>
      ))}
      <line x1={x(40)} x2={x(40)} y1={669} y2={704} stroke="#000" strokeWidth={1} />
      <line x1={x(230)} x2={x(230)} y1={669} y2={697} stroke="#000" strokeWidth={1} />
      {monthLabels.map((m, i) => (
        <text key={"ml" + i} x={m.x} y={704} textAnchor={m.anchor as any} fontSize={13} fill="#000">{m.t}</text>
      ))}

      {/* footer */}
      <text x={3} y={719} fontSize={12.5} fill="#000">SBER RX Equity (Сбербанк) Graph 119</text>
      <text x={725} y={719} fontSize={12.5} textAnchor="middle" fill="#000">Copyright© 2015 Bloomberg Finance L.P.</text>
      <text x={1352} y={719} fontSize={12.5} textAnchor="end" fill="#000">03-Feb-2015 06:46:14</text>
    </svg>
  );
}
